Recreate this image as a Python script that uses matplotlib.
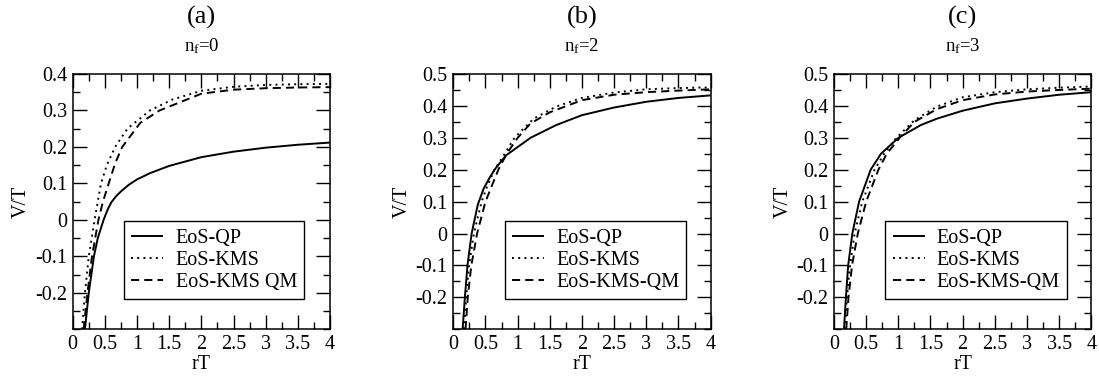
import matplotlib
matplotlib.use("Agg")
import matplotlib.pyplot as plt
from matplotlib.ticker import MultipleLocator, FixedLocator, FuncFormatter

plt.rcParams['font.family'] = ['Liberation Serif', 'DejaVu Serif']
plt.rcParams['mathtext.fontset'] = 'custom'
plt.rcParams['mathtext.rm'] = 'Liberation Serif'
plt.rcParams['mathtext.it'] = 'Liberation Serif:italic'

# ---------------- data ----------------
panel_labels = ["(a)", "(b)", "(c)"]
nf_values = [0, 2, 3]
series_names_a = ["EoS-QP", "EoS-KMS", "EoS-KMS QM"]
series_names_bc = ["EoS-QP", "EoS-KMS", "EoS-KMS-QM"]
y_tops = [0.4, 0.5, 0.5]

# panel (a), n_f = 0
a_qp_r = [0.19, 0.22, 0.25, 0.29, 0.33, 0.39, 0.48, 0.54, 0.60, 0.67, 0.75, 0.87, 1.0, 1.2, 1.5, 2.0, 2.5, 3.0, 3.5, 4.0]
a_qp_v = [-0.30, -0.25, -0.20, -0.15, -0.10, -0.05, 0.0, 0.027, 0.048, 0.064, 0.078, 0.096, 0.111, 0.128, 0.148, 0.172, 0.187, 0.198, 0.206, 0.212]
a_kms_r = [0.145, 0.19, 0.25, 0.34, 0.44, 0.53, 0.66, 0.85, 1.2, 1.55, 2.0, 2.5, 3.0, 3.5, 4.0]
a_kms_v = [-0.30, -0.20, -0.10, 0.0, 0.10, 0.15, 0.20, 0.25, 0.30, 0.33, 0.354, 0.365, 0.370, 0.372, 0.373]
a_qm_r = [0.17, 0.23, 0.30, 0.40, 0.47, 0.56, 0.66, 0.77, 1.05, 1.35, 2.0, 2.5, 3.0, 3.5, 4.0]
a_qm_v = [-0.30, -0.20, -0.10, 0.0, 0.05, 0.10, 0.155, 0.20, 0.266, 0.30, 0.346, 0.357, 0.361, 0.363, 0.364]

# panel (b), n_f = 2
b_qp_r = [0.145, 0.18, 0.22, 0.285, 0.38, 0.47, 0.55, 0.64, 0.82, 1.2, 1.6, 2.0, 2.5, 3.0, 3.5, 4.0]
b_qp_v = [-0.30, -0.20, -0.10, 0.0, 0.09, 0.14, 0.17, 0.20, 0.245, 0.30, 0.34, 0.371, 0.395, 0.413, 0.425, 0.433]
b_kms_r = [0.165, 0.20, 0.245, 0.32, 0.44, 0.53, 0.64, 0.80, 0.95, 1.25, 1.6, 2.0, 2.5, 3.0, 3.5, 4.0]
b_kms_v = [-0.30, -0.20, -0.10, 0.0, 0.10, 0.15, 0.20, 0.25, 0.30, 0.36, 0.398, 0.425, 0.442, 0.452, 0.456, 0.458]
b_qm_r = [0.19, 0.225, 0.28, 0.37, 0.50, 0.70, 0.83, 1.0, 1.2, 1.5, 2.0, 2.5, 3.0, 3.5, 4.0]
b_qm_v = [-0.30, -0.20, -0.10, 0.0, 0.10, 0.20, 0.25, 0.30, 0.345, 0.38, 0.418, 0.435, 0.443, 0.448, 0.452]

# panel (c), n_f = 3
c_qp_r = [0.155, 0.185, 0.22, 0.285, 0.39, 0.57, 0.73, 1.0, 1.35, 1.6, 2.0, 2.5, 3.0, 3.5, 4.0]
c_qp_v = [-0.30, -0.20, -0.10, 0.0, 0.10, 0.20, 0.25, 0.30, 0.34, 0.36, 0.385, 0.408, 0.423, 0.435, 0.443]
c_kms_r = [0.17, 0.20, 0.25, 0.32, 0.44, 0.63, 0.78, 0.97, 1.25, 1.6, 2.0, 2.5, 3.0, 3.5, 4.0]
c_kms_v = [-0.30, -0.20, -0.10, 0.0, 0.10, 0.20, 0.25, 0.30, 0.355, 0.398, 0.427, 0.443, 0.452, 0.457, 0.461]
c_qm_r = [0.19, 0.225, 0.28, 0.37, 0.50, 0.69, 0.82, 1.02, 1.25, 1.6, 2.0, 2.5, 3.0, 3.5, 4.0]
c_qm_v = [-0.30, -0.20, -0.10, 0.0, 0.10, 0.20, 0.25, 0.30, 0.35, 0.39, 0.418, 0.436, 0.445, 0.450, 0.454]

panels = [
    [(a_qp_r, a_qp_v), (a_kms_r, a_kms_v), (a_qm_r, a_qm_v)],
    [(b_qp_r, b_qp_v), (b_kms_r, b_kms_v), (b_qm_r, b_qm_v)],
    [(c_qp_r, c_qp_v), (c_kms_r, c_kms_v), (c_qm_r, c_qm_v)],
]
names = [series_names_a, series_names_bc, series_names_bc]

# ---------------- styling ----------------
W, H = 1099, 380
fig = plt.figure(figsize=(W / 100, H / 100), dpi=100)

lefts_px = [72.7, 453.3, 834.0]
width_px = 257.3
top_px, bottom_px = 74.0, 329.3

lw = 1.4
styles = ['-', (0, (1, 2.2)), (0, (4.2, 2.6))]
fs = 14.5

for i in range(3):
    ax = fig.add_axes([lefts_px[i] / W, 1 - bottom_px / H, width_px / W, (bottom_px - top_px) / H])
    for (r, v), ls, nm in zip(panels[i], styles, names[i]):
        ax.plot(r, v, color='black', lw=lw, linestyle=ls, label=nm,
                solid_capstyle='butt', dash_capstyle='butt', solid_joinstyle='round')
    ax.set_xlim(0, 4)
    ax.set_ylim(-0.3, y_tops[i])
    ax.xaxis.set_major_locator(MultipleLocator(0.5))
    ax.xaxis.set_minor_locator(MultipleLocator(0.25))
    yt = [round(-0.2 + 0.1 * k, 2) for k in range(int(round((y_tops[i] + 0.2) / 0.1)) + 1)]
    ax.yaxis.set_major_locator(FixedLocator(yt))
    ax.yaxis.set_minor_locator(MultipleLocator(0.05))
    fmt = FuncFormatter(lambda x, p: ('%g' % round(x, 2)))
    ax.xaxis.set_major_formatter(fmt)
    ax.yaxis.set_major_formatter(fmt)
    ax.tick_params(which='both', direction='in', top=True, right=True, labelsize=fs, width=1.0)
    ax.tick_params(which='major', length=10, pad=4)
    ax.tick_params(which='minor', length=5)
    for s in ax.spines.values():
        s.set_linewidth(1.1)
    ax.set_xlabel('rT', fontsize=fs, labelpad=1)
    ax.set_ylabel('V/T', fontsize=fs, labelpad=3)
    leg = ax.legend(loc='lower left', bbox_to_anchor=(0.2, 0.119), fontsize=fs,
                    frameon=True, fancybox=False, edgecolor='black', framealpha=1,
                    handlelength=1.6, handletextpad=0.6, labelspacing=0.15,
                    borderpad=0.35, borderaxespad=0.0)
    leg.get_frame().set_linewidth(1.0)
    cx = (lefts_px[i] + width_px / 2) / W
    fig.text(cx, 1 - 17.5 / H, panel_labels[i], ha='center', va='center', fontsize=19)
    fig.text(cx, 1 - 46 / H, r'n$_{\mathrm{f}}$=%d' % nf_values[i], ha='center', va='center', fontsize=13.5)

fig.savefig('out.png', dpi=100)
